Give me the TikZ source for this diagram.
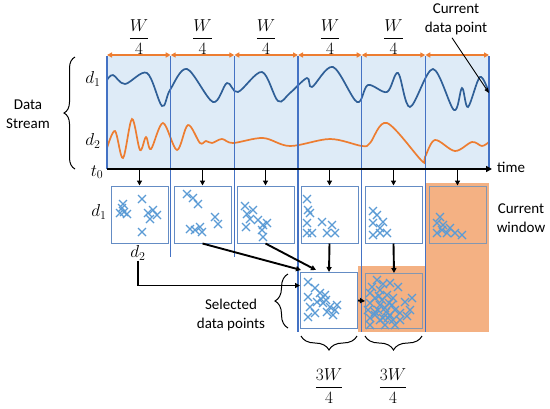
\documentclass[tikz,border=0pt]{standalone}
\usepackage{fontspec}
\setmainfont{Carlito}
\usetikzlibrary{arrows.meta,decorations.pathreplacing}
\definecolor{bgblue}{RGB}{222,235,247}
\definecolor{wblue}{RGB}{47,95,151}
\definecolor{worange}{RGB}{237,125,49}
\definecolor{vblue}{RGB}{68,114,196}
\definecolor{boxblue}{RGB}{100,140,196}
\definecolor{xblue}{RGB}{91,155,213}
\definecolor{ofill}{RGB}{244,177,131}
\definecolor{obox}{RGB}{132,151,176}
\begin{document}
\begin{tikzpicture}[x=1pt,y=-1pt,
  txt/.style={font=\fontsize{15}{19}\selectfont, inner sep=0pt, align=center},
  mtxt/.style={font=\LARGE, inner sep=0pt, align=center},
  box/.style={draw=boxblue, line width=1pt, minimum width=57pt, minimum height=57pt, inner sep=0pt, fill=white},
  boxa/.style={box, minimum height=56pt},
  obx/.style={draw=obox, line width=1pt, minimum width=57pt, minimum height=57pt, inner sep=0pt},
  obxb/.style={obx, minimum height=55pt},
  xm/.style={draw=xblue, line width=1.1pt},
  vline/.style={draw=vblue, line width=1.3pt},
  wave/.style={line width=1.7pt, line cap=round},
  arr/.style={-{Triangle[length=5pt,width=5pt]}, line width=1.9pt},
  thinarr/.style={-{Triangle[length=5pt,width=4pt]}, line width=0.9pt},
  oarr/.style={{Triangle[length=5pt,width=5pt]}-{Triangle[length=5pt,width=5pt]}, draw=worange, line width=1.4pt},
  brc/.style={decorate, decoration={brace, amplitude=#1}, line width=1pt},
]
\useasboundingbox (0,0) rectangle (550,408);

% background band and orange areas
\fill[bgblue] (107,56) rectangle (489,169);
\fill[ofill] (426,183) rectangle (489,332);
\fill[ofill] (358,266) rectangle (426,332);

% waves
\draw[wave, wblue] plot[smooth, tension=0.55] coordinates {
 (107,80) (113,75) (125,84) (147,73) (162,106) (170,90) (187,69) (213,102)
 (227,83) (238,92) (262,72) (278,101) (290,93) (307,78) (312,87) (333,67)
 (357,102) (368,85) (387,92) (398,73) (410,107) (433,69) (454,110) (462,88)
 (468,107) (480,77) (489,93)};
\draw[wave, worange] plot[smooth, tension=0.55] coordinates {
 (107,148) (115,131) (123,158) (132,119) (140,150) (146,137) (151,149)
 (163,123) (177,150) (188,125) (200,143) (206,141) (212,143) (222,139)
 (233,143) (263,138) (290,146) (330,139) (362,146) (370,143) (387,123)
 (422,161) (425,157) (435,140) (455,151) (472,142) (482,146) (489,142)};

% vertical lines
\draw[vline] (107,56) -- (107,169);
\draw[vline] (489,56) -- (489,169);
\draw[vline] (170.7,56) -- (170.7,257);
\draw[vline] (234.3,56) -- (234.3,257);
\draw[vline] (298,56) -- (298,332);
\draw[vline] (361.7,56) -- (361.7,332);
\draw[vline] (425.3,56) -- (425.3,332);

% orange W/4 arrows
\coordinate (v0) at (107,55);
\coordinate (v1) at (170.7,55);
\coordinate (v2) at (234.3,55);
\coordinate (v3) at (298,55);
\coordinate (v4) at (361.7,55);
\coordinate (v5) at (425.3,55);
\coordinate (v6) at (489,55);
\draw[oarr] (v0) -- (v1);
\draw[oarr] (v1) -- (v2);
\draw[oarr] (v2) -- (v3);
\draw[oarr] (v3) -- (v4);
\draw[oarr] (v4) -- (v5);
\draw[oarr] (v5) -- (v6);

\node[mtxt] (w1) at (139,37) {$\displaystyle\frac{W}{4}$};
\node[mtxt] (w2) at (202.5,37) {$\displaystyle\frac{W}{4}$};
\node[mtxt] (w3) at (266,37) {$\displaystyle\frac{W}{4}$};
\node[mtxt] (w4) at (330,37) {$\displaystyle\frac{W}{4}$};
\node[mtxt] (w5) at (393.5,37) {$\displaystyle\frac{W}{4}$};

% axis
\coordinate (t0c) at (107,169);
\coordinate (tend) at (492,169);
\draw[line width=2.5pt, -{Triangle[length=6pt,width=6pt]}] (t0c) -- (tend);

% labels of the stream
\node[txt] (ds) at (28,114) {Data\\Stream};
\draw[brc=11pt] (75,169) -- (75,57);
\node[mtxt] (d1) at (93,79) {$d_1$};
\node[mtxt] (d2) at (93,141) {$d_2$};
\node[mtxt] (t0) at (97,172) {$t_0$};
\node[txt, anchor=west] (time) at (497,167) {time};
\node[txt] (cdp) at (456,19) {Current\\data point};
\coordinate (cdpend) at (489,93);
\draw[thinarr] ([xshift=-4pt,yshift=-3pt]cdp.south) -- (cdpend);

% first row boxes
\node[box] (b1) at (139.5,214.5) {};
\node[box] (b2) at (202.5,214.5) {};
\node[box] (b3) at (265.5,214.5) {};
\node[box] (b4) at (329.5,214.5) {};
\node[box] (b5) at (393.5,214.5) {};
\node[obx] (b6) at (457.5,214.5) {};

% second row boxes
\node[boxa] (bA) at (329,300.5) {};
\node[obxb] (bB) at (394,301) {};

% axis arrows
\foreach \b in {b1,b2,b3,b4,b5,b6}
  \draw[arr] (\b.north |- t0c) -- (\b.north);

% crosses
\foreach \a/\b in {123/204,122/208,120/213,124/212,127/214,142/199,153/210,148/213,157/215,150/219,142/232,
  187/194,193/198,198/204,215/217,218/224,190/229,195/230,200/227,202/232,
  245/206,253/210,247/214,250/219,246/227,258/220,263/225,267/223,262/230,263/237,
  307/199,308/210,310/213,307/223,312/233,322/222,332/225,327/233,335/233,307/233,
  373/211,377/215,373/223,383/222,380/228,387/233,373/235,380/233,
  440/217,437/223,443/225,450/228,437/233,447/233,455/233,462/235,442/230,
  308/282,315/288,308/297,320/293,325/295,323/303,310/307,308/317,315/313,330/307,335/310,333/315,327/312,337/305,317/302,321/299,326/300,
  377/280,383/284,390/283,372/287,398/287,380/290,370/293,387/295,375/298,393/298,370/303,380/305,385/308,395/310,
  375/312,390/315,370/318,380/320,400/320,407/316,405/302,412/298,410/310,370/325,385/325,395/325,375/315,388/318,
  400/313,382/300,378/310,392/305,368/310,386/312,383/318,393/320,379/296,389/303}
  \draw[xm] (\a,\b) +(-4,-4) -- +(4,4) (\a,\b) +(-4,4) -- +(4,-4);

\node[mtxt] (rd1) at (99,212) {$d_1$};
\node[mtxt] (rd2) at (138,253) {$d_2$};

% connectors to selected data points
\draw[arr] (b4.south) -- (bA.north);
\draw[arr] (b5.south) -- (bB.north);
\draw[arr] (b2.south) -- ([xshift=1pt,yshift=2pt]bA.north west);
\draw[arr] (b3.south) -- ([xshift=16pt,yshift=2pt]bA.north west);
\draw[arr] (rd2.south) |- ([yshift=15pt]bA.west);
\draw[arr] (bA.east) -- (bB.west);

\node[txt] (sel) at (231,315) {Selected\\data points};
\draw[brc=13pt] (288,328) -- (288,274);

% bottom braces
\draw[brc=14pt] (357,336) -- (301,336);
\draw[brc=14pt] (422,336) -- (365,336);
\node[mtxt] (f1) at (329,386) {$\displaystyle\frac{3W}{4}$};
\node[mtxt] (f2) at (393,386) {$\displaystyle\frac{3W}{4}$};

\node[txt] (cw) at (521,218) {Current\\window};
\end{tikzpicture}
\end{document}
